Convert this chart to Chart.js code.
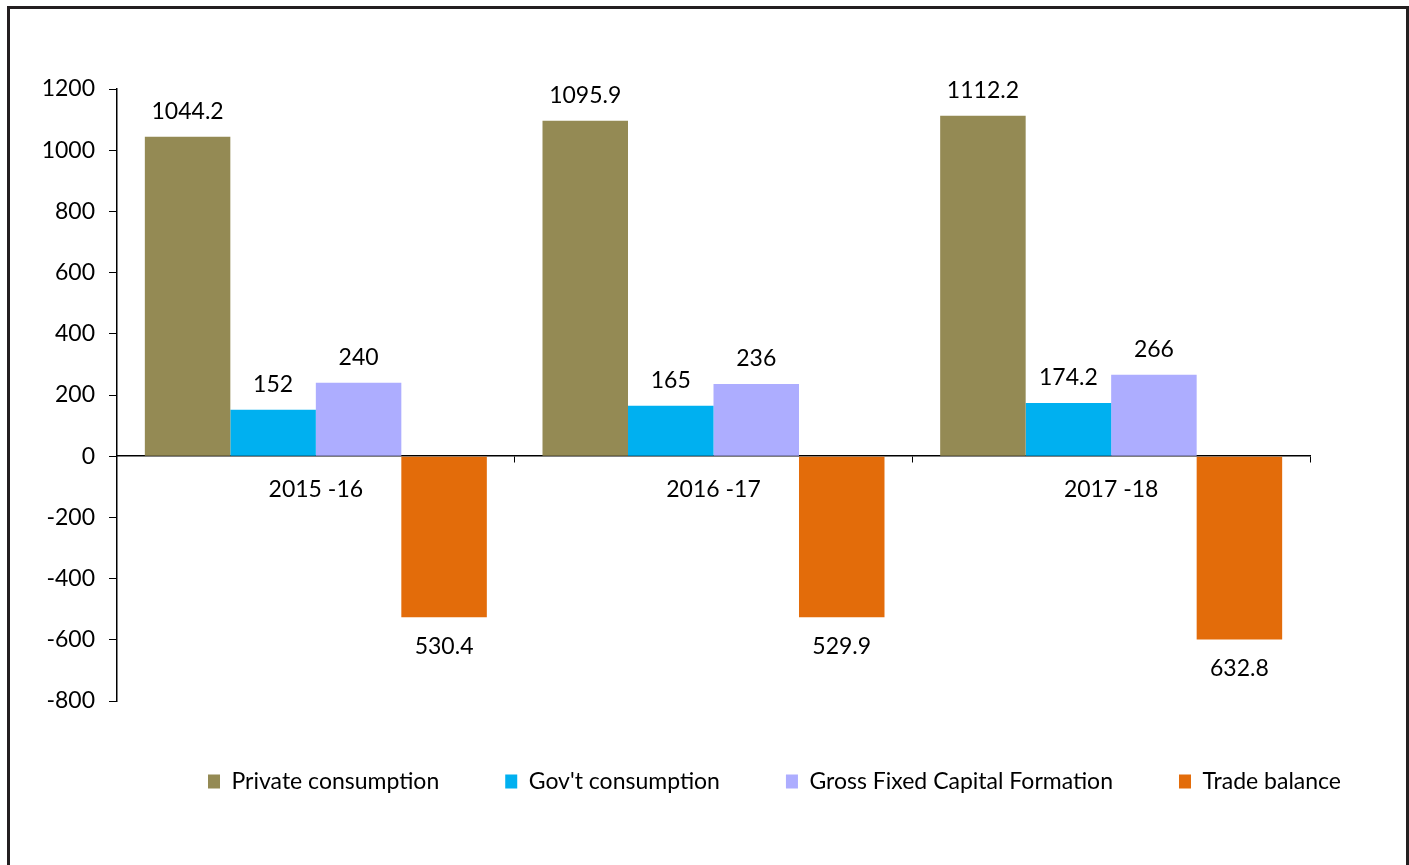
<!DOCTYPE html>
<html>
<head>
<meta charset="utf-8">
<script src="https://cdn.jsdelivr.net/npm/chart.js@4"></script>
<style>
  html, body { margin: 0; padding: 0; background: #fff; overflow: hidden; }
  #frame { position: absolute; left: 7px; top: 6px; width: 1396px; height: 900px;
           border: 3px solid #231f20; pointer-events: none; }
  #myChart { position: absolute; left: 0; top: 0; }
</style>
</head>
<body>
<canvas id="myChart" width="1409" height="865"></canvas>
<div id="frame"></div>
<script>
const FONT = "'Lato', sans-serif"
const FS = 23

const years = ["2015 -16", "2016 -17", "2017 -18"]
const privateCons = [1044.2, 1095.9, 1112.2]
const govCons = [152, 165, 174.2]
const gfcf = [240, 236, 266]
// bar lengths as drawn; printed labels differ
const tradeBalance = [-526, -526, -599]
const tradeLabels = ["530.4", "529.9", "632.8"]
const yTicks = [-800, -600, -400, -200, 0, 200, 400, 600, 800, 1000, 1200]

const valueLabels = [
  privateCons.map(String),
  govCons.map(String),
  gfcf.map(String),
  tradeLabels
]

// draws the numbers above / below the bars
const barLabels = {
  id: 'barLabels',
  afterDatasetsDraw(chart) {
    const ctx = chart.ctx
    ctx.save()
    ctx.font = FS + "px " + FONT
    ctx.fillStyle = '#000'
    ctx.textAlign = 'center'
    ctx.textBaseline = 'middle'
    chart.data.datasets.forEach((ds, i) => {
      chart.getDatasetMeta(i).data.forEach((bar, j) => {
        const y = ds.data[j] >= 0 ? bar.y - 25 : bar.y + 29
        ctx.fillText(valueLabels[i][j], bar.x, y)
      })
    })
    ctx.restore()
  }
}

// moves the legend like in the original
const legendShift = {
  id: 'legendShift',
  afterLayout(chart) {
    const lg = chart.legend
    if (!lg || !lg.lineWidths) return
    const pad = lg.options.labels.padding
    const x0 = (lg.left + pad + lg.right - lg.lineWidths[0]) / 2
    const dx = 208 - x0
    lg.left += dx
    lg.right += dx
    lg.top += 3
    lg.bottom += 3
  }
}

const ctx = document.getElementById('myChart').getContext('2d')
const chart = new Chart(ctx, {
  type: 'bar',
  data: {
    labels: years,
    datasets: [
      { label: 'Private consumption', data: privateCons, backgroundColor: '#948a54' },
      { label: "Gov't consumption", data: govCons, backgroundColor: '#00b0f0' },
      { label: 'Gross Fixed Capital Formation', data: gfcf, backgroundColor: '#adadff' },
      { label: 'Trade balance', data: tradeBalance, backgroundColor: '#e36c0a' }
    ]
  },
  options: {
    responsive: false,
    animation: false,
    layout: { padding: { left: 0, right: 99, top: 89, bottom: 65 } },
    datasets: { bar: { categoryPercentage: 0.86, barPercentage: 1.0, borderWidth: 0 } },
    plugins: {
      legend: {
        position: 'bottom',
        labels: { boxWidth: 12, boxHeight: 14, padding: 66, color: '#000', font: { family: FONT, size: FS } }
      },
      tooltip: { enabled: false }
    },
    scales: {
      x: {
        position: { y: 0 },
        grid: { display: true, drawOnChartArea: false, drawTicks: true, tickLength: 6, color: '#000', offset: true },
        border: { display: true, color: '#000', width: 1.5 },
        ticks: { color: '#000', padding: 14, font: { family: FONT, size: FS }, maxRotation: 0 }
      },
      y: {
        min: -800,
        max: 1200,
        afterFit(s) { s.width = 117 },
        afterBuildTicks(s) { s.ticks = yTicks.map(v => ({ value: v })) },
        grid: { display: true, drawOnChartArea: false, drawTicks: true, tickLength: 8, color: '#000' },
        border: { display: true, color: '#000', width: 1.5 },
        ticks: { color: '#000', padding: 14, font: { family: FONT, size: FS }, callback: v => String(v) }
      }
    }
  },
  plugins: [barLabels, legendShift]
})
</script>
</body>
</html>
